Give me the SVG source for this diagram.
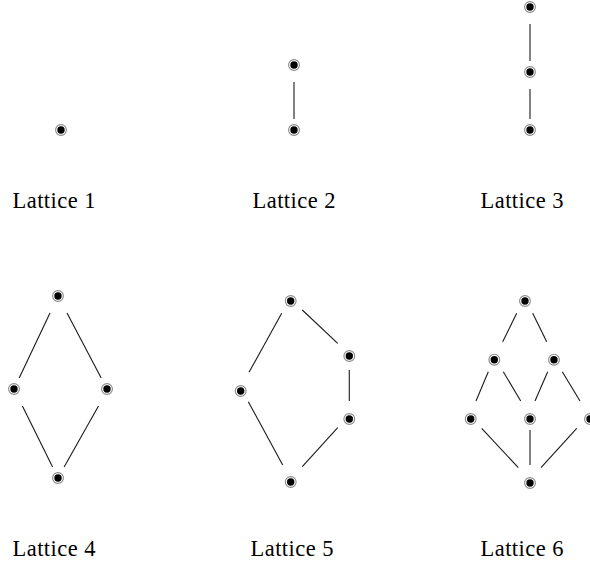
<svg xmlns="http://www.w3.org/2000/svg" width="590" height="567" viewBox="0 0 590 567">
<defs>
<style>
.ring{fill:#fff;stroke:#8a8a8a;stroke-width:1.1}
.dot{fill:#000}
.edge{stroke:#1a1a1a;stroke-width:1.1;fill:none}
.lbl{font-family:"Liberation Serif","Times New Roman",serif;font-size:22.5px;fill:#000;text-anchor:middle}
</style>
<g id="nd"><circle class="ring" r="5.4"/><circle class="dot" r="3.7"/></g>
</defs>
<rect width="590" height="567" fill="#fff"/>
<g id="connectors">
<line class="edge" x1="294" y1="82" x2="294" y2="119"/>
<line class="edge" x1="530" y1="24" x2="530" y2="61"/>
<line class="edge" x1="530" y1="89" x2="530" y2="119"/>
<line class="edge" x1="50" y1="313" x2="19.2" y2="378"/>
<line class="edge" x1="67" y1="313" x2="101.2" y2="378"/>
<line class="edge" x1="22.4" y1="406" x2="52.6" y2="467"/>
<line class="edge" x1="98.5" y1="406" x2="64.1" y2="467"/>
<line class="edge" x1="302.3" y1="310" x2="337.7" y2="343.3"/>
<line class="edge" x1="281.7" y1="313.3" x2="249" y2="372.3"/>
<line class="edge" x1="349.3" y1="370" x2="349.3" y2="401"/>
<line class="edge" x1="248.3" y1="401.7" x2="282.7" y2="465"/>
<line class="edge" x1="337.7" y1="427.7" x2="302.3" y2="466.7"/>
<line class="edge" x1="516.7" y1="313.3" x2="502.7" y2="341.7"/>
<line class="edge" x1="532.7" y1="313.3" x2="546.7" y2="341.7"/>
<line class="edge" x1="488.3" y1="371.7" x2="476" y2="401"/>
<line class="edge" x1="503.3" y1="371.7" x2="520.7" y2="401"/>
<line class="edge" x1="547.7" y1="371.7" x2="535" y2="401"/>
<line class="edge" x1="562.3" y1="371.7" x2="580" y2="401"/>
<line class="edge" x1="481.7" y1="428.3" x2="518.3" y2="467.7"/>
<line class="edge" x1="530" y1="430" x2="530" y2="465"/>
<line class="edge" x1="576.7" y1="428.3" x2="541" y2="467.7"/>
</g>
<g id="lattice1">
<g id="l1-n1"><use href="#nd" x="61" y="130"/></g>
<text class="lbl" x="54" y="208" textLength="83">Lattice 1</text>
</g>
<g id="lattice2">
<g id="l2-n1"><use href="#nd" x="294" y="65"/></g>
<g id="l2-n2"><use href="#nd" x="294" y="130"/></g>
<text class="lbl" x="294" y="208" textLength="83">Lattice 2</text>
</g>
<g id="lattice3">
<g id="l3-n1"><use href="#nd" x="530" y="7"/></g>
<g id="l3-n2"><use href="#nd" x="530" y="72"/></g>
<g id="l3-n3"><use href="#nd" x="530" y="130"/></g>
<text class="lbl" x="522" y="208" textLength="83">Lattice 3</text>
</g>
<g id="lattice4">
<g id="l4-top"><use href="#nd" x="58" y="296"/></g>
<g id="l4-left"><use href="#nd" x="14" y="389"/></g>
<g id="l4-right"><use href="#nd" x="107" y="389"/></g>
<g id="l4-bottom"><use href="#nd" x="58" y="478"/></g>
<text class="lbl" x="54" y="556" textLength="83">Lattice 4</text>
</g>
<g id="lattice5">
<g id="l5-top"><use href="#nd" x="290.7" y="301"/></g>
<g id="l5-ru"><use href="#nd" x="349.3" y="356"/></g>
<g id="l5-rl"><use href="#nd" x="349.3" y="419"/></g>
<g id="l5-left"><use href="#nd" x="240.7" y="391"/></g>
<g id="l5-bottom"><use href="#nd" x="290.7" y="482"/></g>
<text class="lbl" x="292" y="556" textLength="83">Lattice 5</text>
</g>
<g id="lattice6">
<g id="l6-top"><use href="#nd" x="525" y="301"/></g>
<g id="l6-ml"><use href="#nd" x="494.3" y="359.7"/></g>
<g id="l6-mr"><use href="#nd" x="554" y="359.7"/></g>
<g id="l6-b1"><use href="#nd" x="470.7" y="419"/></g>
<g id="l6-b2"><use href="#nd" x="530" y="419"/></g>
<g id="l6-b3"><use href="#nd" x="590" y="419"/></g>
<g id="l6-bottom"><use href="#nd" x="530" y="483"/></g>
<text class="lbl" x="522" y="556" textLength="83">Lattice 6</text>
</g>
</svg>
